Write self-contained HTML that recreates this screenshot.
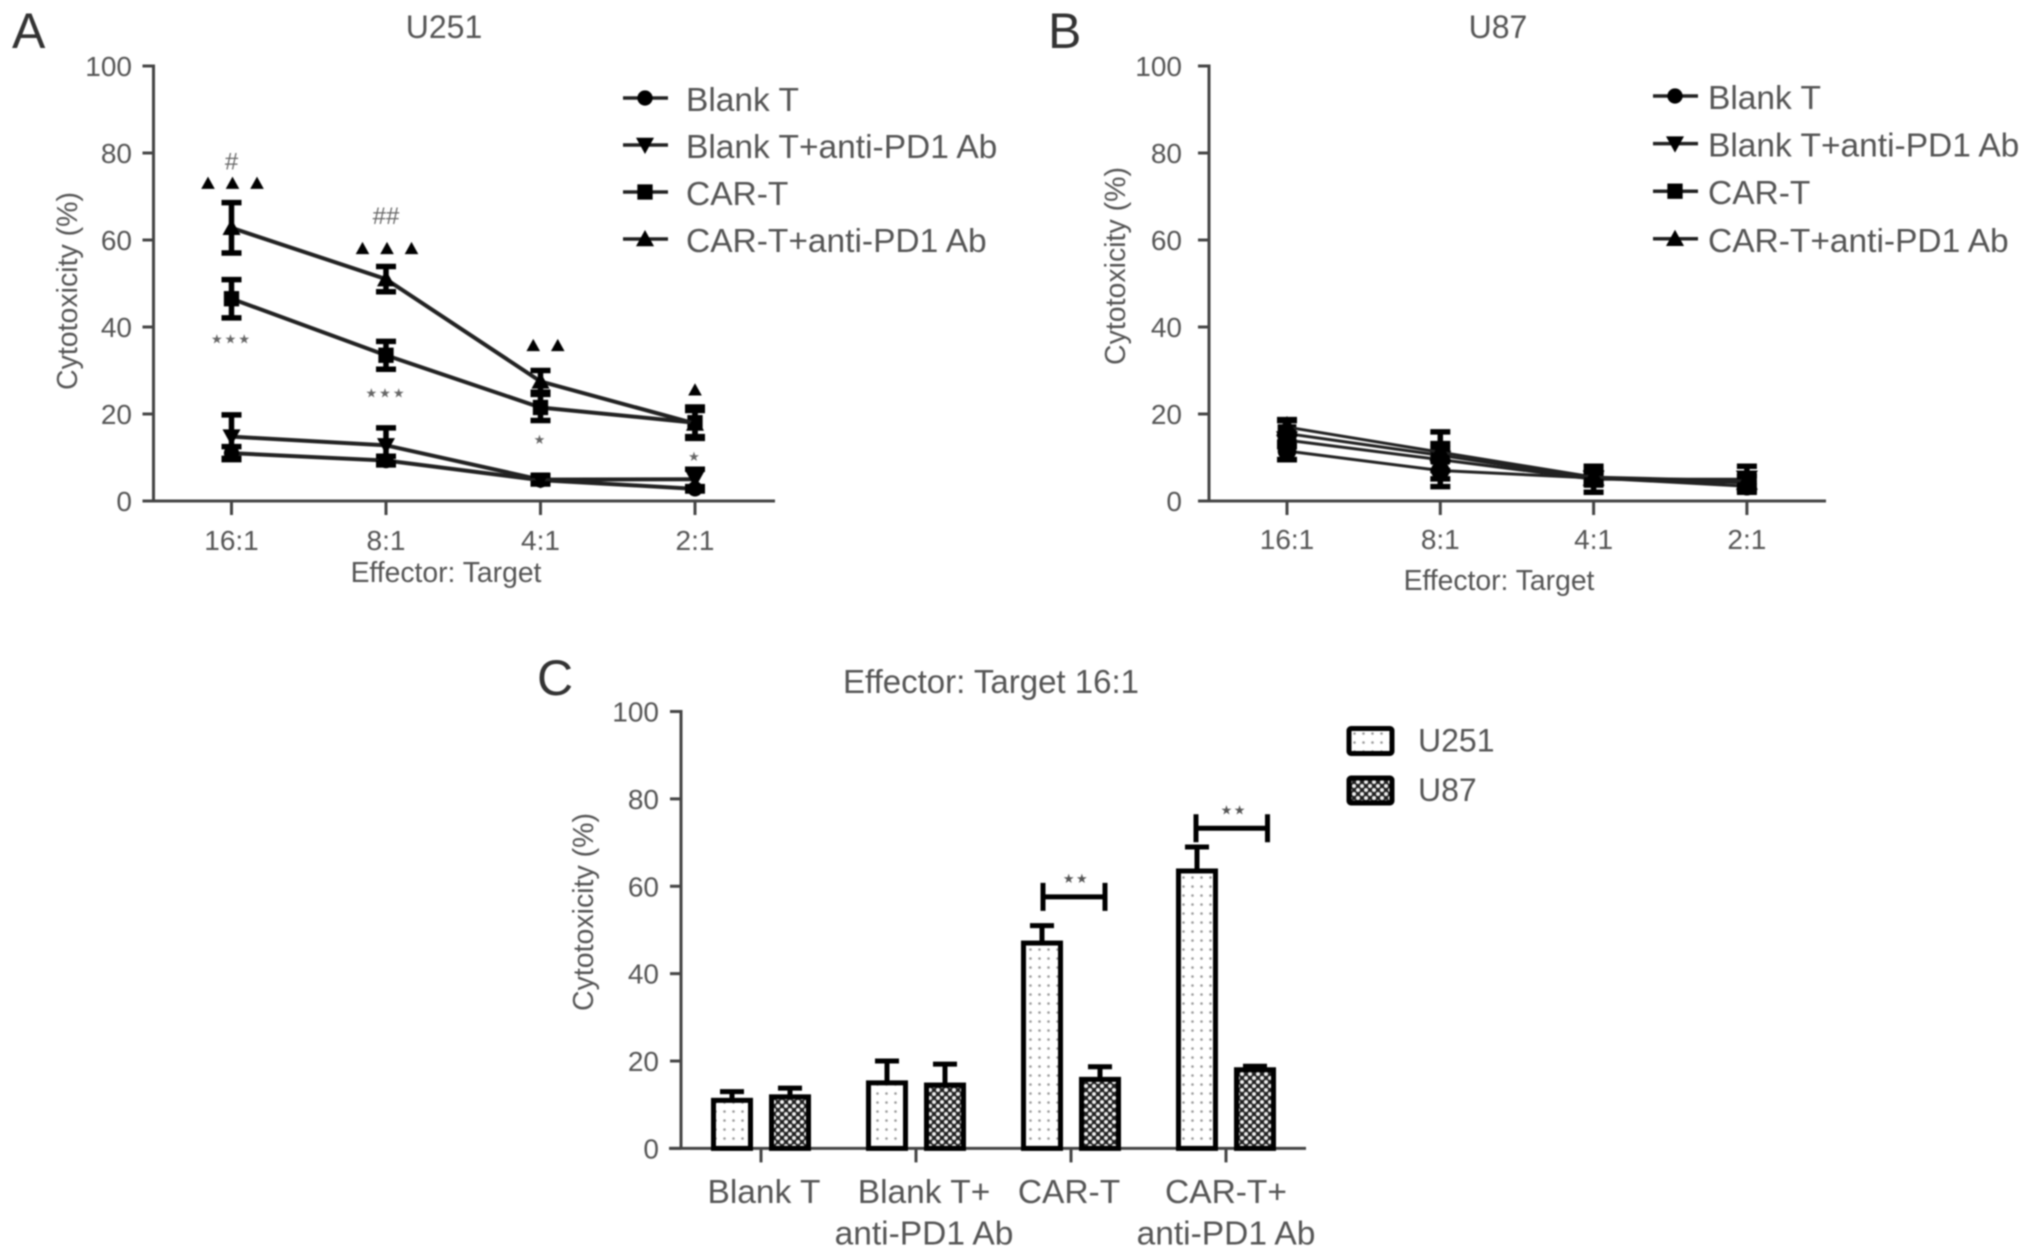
<!DOCTYPE html>
<html lang="en">
<head>
<meta charset="utf-8">
<title>Cytotoxicity charts</title>
<style>
html,body{margin:0;padding:0;background:#fff;}
svg{display:block;filter:blur(0.8px);}
text{font-family:"Liberation Sans",sans-serif;fill:#555;}
</style>
</head>
<body>
<svg id="figure" xmlns="http://www.w3.org/2000/svg" width="2032" height="1256" viewBox="0 0 2032 1256">
  <defs>
    <pattern id="dots-light" patternUnits="userSpaceOnUse" width="9" height="9">
      <rect width="9" height="9" fill="#fff"></rect>
      <circle cx="4.5" cy="4.5" r="1.3" fill="#999"></circle>
    </pattern>
    <pattern id="dots-dark" patternUnits="userSpaceOnUse" width="8" height="8">
      <rect width="8" height="8" fill="#222"></rect>
      <circle cx="2" cy="2" r="2" fill="#eee"></circle>
      <circle cx="6" cy="6" r="2" fill="#eee"></circle>
    </pattern>
  </defs>
  <rect width="2032" height="1256" fill="#fff"></rect>
  <text x="12" y="48" font-size="50" style="fill:#333">A</text>
  <text x="1048" y="48" font-size="50" style="fill:#333">B</text>
  <text x="537" y="695" font-size="50" style="fill:#333">C</text>
  <text x="444" y="38" font-size="32" text-anchor="middle">U251</text>
  <text x="1498" y="38" font-size="32" text-anchor="middle">U87</text>
  <text x="991" y="693" font-size="33" text-anchor="middle">Effector: Target 16:1</text>
</svg>
<script>
// ---- shared labels ----
var ratioLabels = ['16:1', '8:1', '4:1', '2:1'];
var yTickValues = [0, 20, 40, 60, 80, 100];
var seriesNames = ['Blank T', 'Blank T+anti-PD1 Ab', 'CAR-T', 'CAR-T+anti-PD1 Ab'];
var seriesMarkers = ['circle', 'down', 'square', 'up'];

// ---- panel A: U251 ----
var u251BlankT = [11, 9.3, 4.8, 2.8];
var u251BlankTPD1 = [14.8, 12.8, 4.9, 5];
var u251CarT = [46.5, 33.5, 21.5, 18];
var u251CarTPD1 = [62.8, 51, 27.5, 17.8];
var u251BlankTErr = [1.5, 1, 0.8, 0.5];
var u251BlankTPD1Err = [5, 4, 1, 2.3];
var u251CarTErr = [4.4, 3.2, 3, 3.6];
var u251CarTPD1Err = [5.8, 2.9, 2.5, 3];

// ---- panel B: U87 ----
var u87BlankT = [11.5, 7, 5.3, 3.4];
var u87BlankTPD1 = [14, 9.5, 5, 5];
var u87CarT = [15.5, 10.5, 5.2, 4.2];
var u87CarTPD1 = [17, 11.2, 5.5, 4.6];
var u87BlankTErr = [2, 3.7, 1, 1];
var u87BlankTPD1Err = [4.5, 2.5, 3, 3];
var u87CarTErr = [3, 5.4, 1.5, 1.5];
var u87CarTPD1Err = [1.7, 2, 1.2, 1.2];

// ---- panel A significance annotations: category index, value-axis height ----
var triangleCategories = [0, 1, 2, 3];
var triangleCounts = [3, 3, 2, 1];
var triangleHeights = [73, 58, 35.7, 25.5];
var starCategories = [0, 1, 2, 3];
var starLabels = ['\u2605\u2605\u2605', '\u2605\u2605\u2605', '\u2605', '\u2605'];
var starHeights = [37.3, 25, 14.3, 10.3];
var hashCategories = [0, 1];
var hashLabels = ['#', '##'];
var hashHeights = [78, 65.5];

// ---- panel C: bars ----
var barGroups = [['Blank T'], ['Blank T+', 'anti-PD1 Ab'], ['CAR-T'], ['CAR-T+', 'anti-PD1 Ab']];
var barU251 = [11, 15, 47, 63.5];
var barU87 = [11.8, 14.5, 15.8, 18];
var barU251Err = [2, 5, 4, 5.5];
var barU87Err = [2, 4.8, 2.9, 0.8];
var barLegend = ['U251', 'U87'];
var bracketCategories = [2, 3];
var bracketHeights = [57.8, 73.5];

var NS = 'http://www.w3.org/2000/svg';
var root = document.getElementById('figure');

function el(tag, attrs, parent) {
  var n = document.createElementNS(NS, tag);
  for (var k in attrs) { n.setAttribute(k, attrs[k]); }
  (parent || root).appendChild(n);
  return n;
}

function label(parent, x, y, str, size, anchor) {
  var t = el('text', { x: x, y: y, 'font-size': size, 'text-anchor': anchor || 'middle' }, parent);
  t.textContent = str;
  return t;
}

function markerPath(kind, cx, cy, s) {
  if (kind === 'up') { return 'M' + cx + ' ' + (cy - s) + 'L' + (cx + s) + ' ' + (cy + s * 0.8) + 'L' + (cx - s) + ' ' + (cy + s * 0.8) + 'Z'; }
  if (kind === 'down') { return 'M' + cx + ' ' + (cy + s) + 'L' + (cx + s) + ' ' + (cy - s * 0.8) + 'L' + (cx - s) + ' ' + (cy - s * 0.8) + 'Z'; }
  if (kind === 'square') { return 'M' + (cx - s * 0.85) + ' ' + (cy - s * 0.85) + 'h' + (s * 1.7) + 'v' + (s * 1.7) + 'h' + (-s * 1.7) + 'Z'; }
  return 'M' + (cx - s * 0.85) + ' ' + cy + 'a' + (s * 0.85) + ' ' + (s * 0.85) + ' 0 1 0 ' + (s * 1.7) + ' 0a' + (s * 0.85) + ' ' + (s * 0.85) + ' 0 1 0 ' + (-s * 1.7) + ' 0Z';
}

function yAxisFn(y0, y100) {
  return function (v) { return y0 - (v / 100) * (y0 - y100); };
}
function xAxisFn(x0, step) {
  return function (i) { return x0 + i * step; };
}

function drawAxes(g, axisX, xLeft, xRight, yFn, labelRight) {
  var yLine = el('line', { x1: axisX, x2: axisX, y1: yFn(100) - 1.5, y2: yFn(0), stroke: '#444', 'stroke-width': 3 }, g);
  
  
  var xLine = el('line', { x1: xLeft, x2: xRight, y1: yFn(0), y2: yFn(0), stroke: '#444', 'stroke-width': 3 }, g);
  
  
  yTickValues.forEach(function (v) {
    var tick = el('line', { x1: axisX - 11, x2: axisX, y1: yFn(v), y2: yFn(v), stroke: '#444', 'stroke-width': 3 }, g);
    
    
    var tl = label(g, labelRight, yFn(v) + 10, String(v), 28, 'end');
    
    
  });
}

function drawYTitle(g, x, cy) {
  var t = el('text', { x: x, y: cy, 'font-size': 28.5, 'text-anchor': 'middle', transform: 'rotate(-90 ' + x + ' ' + cy + ')' }, g);
  t.textContent = 'Cytotoxicity (%)';
  
  
}

function drawLinePanel(g, values, errors, xFn, yFn, tickLabelY, titleX, titleY, legendX, legendY, legendGap, legendTextX, legendTextDy, lineWidth, markerSize) {
  ratioLabels.forEach(function (r, i) {
    var tick = el('line', { x1: xFn(i), x2: xFn(i), y1: yFn(0), y2: yFn(0) + 14, stroke: '#444', 'stroke-width': 3 }, g);
    
    
    var tl = label(g, xFn(i), tickLabelY, r, 28);
    
    
  });
  var xt = label(g, titleX, titleY, 'Effector: Target', 28.3);
  
  

  values.forEach(function (series, s) {
    var sg = el('g', {}, g);
    
    
    var pts = series.map(function (v, i) { return xFn(i) + ',' + yFn(v); }).join(' ');
    var line = el('polyline', { points: pts, fill: 'none', stroke: '#222', 'stroke-width': lineWidth }, sg);
    
    
    series.forEach(function (v, i) {
      var hi = yFn(v + errors[s][i]);
      var lo = yFn(v - errors[s][i]);
      var bar = el('path', {
        d: 'M' + xFn(i) + ' ' + hi + 'V' + lo + 'M' + (xFn(i) - 10) + ' ' + hi + 'h20M' + (xFn(i) - 10) + ' ' + lo + 'h20',
        fill: 'none', stroke: '#000', 'stroke-width': 5.5
      }, sg);
      
      
      var m = el('path', { d: markerPath(seriesMarkers[s], xFn(i), yFn(v), markerSize), fill: '#000' }, sg);
      
      
    });
  });

  seriesNames.forEach(function (name, s) {
    var cy = legendY + s * legendGap;
    var lg = el('g', {}, g);
    
    
    var ll = el('line', { x1: legendX, x2: legendX + 45, y1: cy, y2: cy, stroke: '#222', 'stroke-width': 3.5 }, lg);
    
    
    var lm = el('path', { d: markerPath(seriesMarkers[s], legendX + 22, cy, 9), fill: '#000' }, lg);
    
    
    var lt = label(lg, legendTextX, cy + legendTextDy, name, 33.5, 'start');
    
    
  });
}

// ---- Panel A ----
var panelA = el('g', {});


var yA = yAxisFn(501, 66);
var xA = xAxisFn(231.5, 154.5);
drawAxes(panelA, 153.5, 143, 775, yA, 132);
drawYTitle(panelA, 77, 291);
drawLinePanel(panelA,
  [u251BlankT, u251BlankTPD1, u251CarT, u251CarTPD1],
  [u251BlankTErr, u251BlankTPD1Err, u251CarTErr, u251CarTPD1Err],
  xA, yA, 550, 446, 582, 623, 98, 47, 686, 13, 4, 9);

triangleCategories.forEach(function (c, k) {
  var n = triangleCounts[k];
  for (var j = 0; j < n; j++) {
    var off = (j - (n - 1) / 2) * 24.5 + (n === 2 ? 5 : 0) + (n === 3 ? 1 : 0);
    var tri = el('path', { d: markerPath('up', xA(c) + off, yA(triangleHeights[k]), 6.8), fill: '#000' }, panelA);
    
    
  }
});
starCategories.forEach(function (c, k) {
  var st = el('text', { x: xA(c), y: yA(starHeights[k]) + 5, 'font-size': 13, 'text-anchor': 'middle', 'letter-spacing': 2 }, panelA);
  st.textContent = starLabels[k];
  st.style.fontFamily = '"DejaVu Sans",sans-serif';
  st.style.fill = '#666';
  
  
});
hashCategories.forEach(function (c, k) {
  var h = label(panelA, xA(c), yA(hashHeights[k]) + 8, hashLabels[k], 24);
  h.style.fill = '#666';
  
  
});

// ---- Panel B ----
var panelB = el('g', {});


var yB = yAxisFn(501, 66);
var xB = xAxisFn(1287, 153.3);
drawAxes(panelB, 1209, 1199, 1826, yB, 1182);
drawYTitle(panelB, 1125, 266);
drawLinePanel(panelB,
  [u87BlankT, u87BlankTPD1, u87CarT, u87CarTPD1],
  [u87BlankTErr, u87BlankTPD1Err, u87CarTErr, u87CarTPD1Err],
  xB, yB, 549, 1499, 590, 1653, 96, 47.6, 1708, 13, 3, 11);

// ---- Panel C ----
var panelC = el('g', {});


var yC = yAxisFn(1148.4, 711.5);
var xC = xAxisFn(761, 155);
drawAxes(panelC, 681, 669, 1306, yC, 659);
drawYTitle(panelC, 593, 912);

function groupLabelX(i) {
  return xC(i) + [3, 8, -2, 0][i];
}

function drawBar(g, cx, value, err, fillId) {
  var top = yC(value);
  var base = yC(0);
  var eb = el('path', {
    d: 'M' + cx + ' ' + top + 'V' + yC(value + err) + 'M' + (cx - 12) + ' ' + yC(value + err) + 'h24',
    fill: 'none', stroke: '#000', 'stroke-width': 5
  }, g);
  
  
  var r = el('rect', { x: cx - 18.5, y: top, width: 37, height: base - top, fill: 'url(#' + fillId + ')', stroke: '#000', 'stroke-width': 5 }, g);
  
  
}

barGroups.forEach(function (lines, i) {
  var tick = el('line', { x1: xC(i), x2: xC(i), y1: yC(0), y2: yC(0) + 14, stroke: '#444', 'stroke-width': 3 }, panelC);
  
  
  drawBar(panelC, xC(i) - 29, barU251[i], barU251Err[i], 'dots-light');
  drawBar(panelC, xC(i) + 29, barU87[i], barU87Err[i], 'dots-dark');
  lines.forEach(function (txt, j) {
    var t = label(panelC, groupLabelX(i), 1203 + j * 41.5, txt, 33.5);
    
    
  });
});

bracketCategories.forEach(function (c, k) {
  var cy = yC(bracketHeights[k]) + 1;
  var xl = xC(c) - (k === 0 ? 28 : 30);
  var xr = xC(c) + (k === 0 ? 34 : 41.5);
  var br = el('path', {
    d: 'M' + xl + ' ' + (cy - 14) + 'V' + (cy + 14) + 'M' + xl + ' ' + cy + 'H' + xr + 'M' + xr + ' ' + (cy - 14) + 'V' + (cy + 14),
    fill: 'none', stroke: '#000', 'stroke-width': 5
  }, panelC);
  
  
  var st = el('text', { x: (xl + xr) / 2 + 2, y: cy - 14, 'font-size': 13, 'text-anchor': 'middle', 'letter-spacing': 1.5 }, panelC);
  st.textContent = '\u2605\u2605';
  st.style.fontFamily = '"DejaVu Sans",sans-serif';
  st.style.fill = '#555';
  
  
});

barLegend.forEach(function (name, i) {
  var cy = 741.5 + i * 49.5;
  var lg = el('g', {}, panelC);
  
  
  var sw = el('rect', { x: 1349, y: cy - 13, width: 43, height: 25, fill: i === 0 ? 'url(#dots-light)' : 'url(#dots-dark)', stroke: '#000', 'stroke-width': 5, rx: 2 }, lg);
  
  
  var t = label(lg, 1418, cy + 10, name, 32, 'start');
  
  
});
</script>
</body>
</html>
